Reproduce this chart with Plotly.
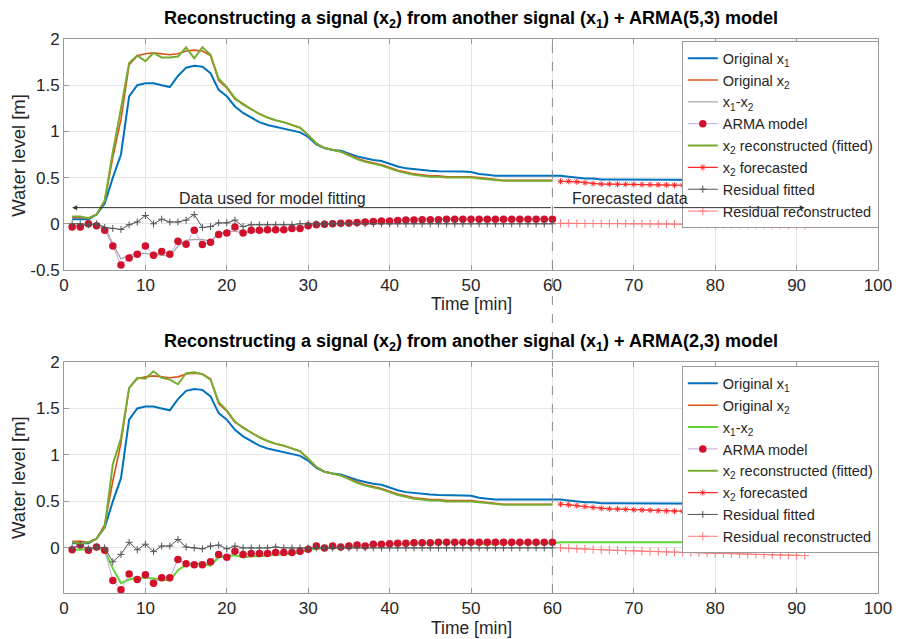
import plotly.graph_objects as go

# ---------------- data ----------------
t_fit = list(range(1, 61))
t_fc = list(range(61, 92))
t_all = list(range(1, 92))

x1 = [0.05, 0.05, 0.05, 0.10, 0.22, 0.50, 0.75, 1.38, 1.50, 1.52,
      1.52, 1.50, 1.48, 1.60, 1.69, 1.71, 1.70, 1.63, 1.45, 1.38,
      1.27, 1.20, 1.15, 1.10, 1.07, 1.05, 1.03, 1.01, 0.99, 0.94,
      0.86, 0.82, 0.80, 0.79, 0.76, 0.73, 0.71, 0.69, 0.68, 0.65,
      0.62, 0.60, 0.59, 0.58, 0.575, 0.57, 0.57, 0.565, 0.565, 0.56,
      0.54, 0.53, 0.52, 0.52, 0.52, 0.52, 0.52, 0.52, 0.52, 0.52,
      0.52, 0.51, 0.50, 0.49, 0.49, 0.48, 0.48, 0.48, 0.48, 0.48,
      0.48, 0.48, 0.48, 0.48, 0.48, 0.48, 0.475, 0.475, 0.475, 0.475,
      0.475, 0.47, 0.47, 0.47, 0.47, 0.47, 0.47, 0.47, 0.47, 0.47, 0.47]

x2 = [0.07, 0.07, 0.06, 0.10, 0.25, 0.72, 1.13, 1.72, 1.82, 1.84,
      1.85, 1.84, 1.83, 1.84, 1.87, 1.88, 1.87, 1.82, 1.55, 1.47,
      1.35, 1.30, 1.24, 1.19, 1.15, 1.12, 1.10, 1.07, 1.04, 0.96,
      0.87, 0.82, 0.80, 0.78, 0.75, 0.71, 0.68, 0.66, 0.64, 0.61,
      0.58, 0.56, 0.54, 0.53, 0.52, 0.52, 0.51, 0.51, 0.51, 0.51,
      0.50, 0.49, 0.48, 0.47, 0.47, 0.47, 0.47, 0.47, 0.47, 0.47]

x1_minus_x2 = [-0.02, -0.02, -0.01, 0.0, -0.03, -0.22, -0.38, -0.34, -0.32, -0.32,
               -0.33, -0.34, -0.35, -0.24, -0.18, -0.17, -0.17, -0.19, -0.10, -0.09,
               -0.08, -0.10, -0.09, -0.09, -0.08, -0.07, -0.07, -0.06, -0.05, -0.02,
               -0.01, 0.0, 0.0, 0.01, 0.01, 0.02, 0.03, 0.03, 0.04, 0.04,
               0.04, 0.04, 0.05, 0.05, 0.055, 0.05, 0.06, 0.055, 0.055, 0.05,
               0.04, 0.04, 0.04, 0.05, 0.05, 0.05, 0.05, 0.05, 0.05, 0.05]
x1_minus_x2_after = [0.06] * 31

# ARMA(5,3) panel
arma_53 = [-0.035, -0.035, 0.0, -0.02, -0.07, -0.24, -0.445, -0.37, -0.33, -0.24,
           -0.34, -0.30, -0.33, -0.19, -0.22, -0.07, -0.225, -0.20, -0.115, -0.10,
           -0.035, -0.10, -0.07, -0.07, -0.065, -0.065, -0.065, -0.05, -0.05, -0.02,
           -0.01, -0.005, 0.0, 0.005, 0.01, 0.015, 0.02, 0.025, 0.03, 0.03,
           0.035, 0.04, 0.04, 0.045, 0.045, 0.045, 0.05, 0.05, 0.05, 0.05,
           0.05, 0.05, 0.05, 0.05, 0.05, 0.05, 0.05, 0.05, 0.05, 0.05]
recon_53 = [0.08, 0.08, 0.06, 0.10, 0.25, 0.78, 1.25, 1.74, 1.82, 1.76,
            1.85, 1.80, 1.80, 1.81, 1.91, 1.79, 1.91, 1.83, 1.57, 1.48,
            1.36, 1.29, 1.24, 1.19, 1.15, 1.12, 1.10, 1.07, 1.04, 0.96,
            0.87, 0.82, 0.80, 0.78, 0.74, 0.70, 0.67, 0.65, 0.63, 0.60,
            0.57, 0.55, 0.53, 0.52, 0.51, 0.51, 0.50, 0.50, 0.50, 0.50,
            0.49, 0.48, 0.47, 0.465, 0.465, 0.465, 0.465, 0.465, 0.465, 0.465]
forecast_53 = [0.46, 0.46, 0.455, 0.445, 0.435, 0.43, 0.43, 0.428, 0.427, 0.427,
               0.425, 0.424, 0.422, 0.42, 0.418, 0.417, 0.416, 0.415, 0.414, 0.413,
               0.412, 0.412, 0.411, 0.411, 0.41, 0.41, 0.41, 0.409, 0.409, 0.408, 0.408]
resid_fit_53 = [0.0, 0.0, -0.01, 0.0, -0.04, -0.05, -0.06, -0.01, 0.02, 0.09,
                0.0, 0.05, 0.02, 0.02, 0.04, 0.10, -0.04, -0.03, 0.01, 0.01,
                0.04, -0.03, -0.01, -0.01, -0.01, -0.01, -0.01, -0.01, 0.0, 0.0,
                0.0, 0.0, 0.0, 0.0, 0.0, 0.0, 0.0, 0.0, 0.0, 0.0,
                0.0, 0.0, 0.0, 0.0, 0.0, 0.0, 0.0, 0.0, 0.0, 0.0,
                0.0, 0.0, 0.0, 0.0, 0.0, 0.0, 0.0, 0.0, 0.0, 0.0]
resid_rec_53 = [0.005, 0.005, 0.004, 0.004, 0.003, 0.003, 0.002, 0.002, 0.001, 0.0,
                0.0, -0.001, -0.002, -0.002, -0.003, -0.004, -0.005, -0.005, -0.006, -0.007,
                -0.008, -0.008, -0.009, -0.010, -0.010, -0.011, -0.012, -0.012, -0.013, -0.014, -0.015]

# ARMA(2,3) panel
arma_23 = [-0.02, 0.03, -0.025, 0.01, -0.025, -0.35, -0.45, -0.28, -0.34, -0.29,
           -0.38, -0.32, -0.32, -0.125, -0.17, -0.18, -0.18, -0.15, -0.07, -0.10,
           -0.035, -0.07, -0.06, -0.06, -0.06, -0.05, -0.05, -0.05, -0.035, -0.015,
           0.02, 0.0, 0.02, 0.01, 0.02, 0.03, 0.02, 0.04, 0.04, 0.045,
           0.05, 0.05, 0.055, 0.055, 0.055, 0.06, 0.06, 0.06, 0.06, 0.06,
           0.06, 0.06, 0.06, 0.06, 0.06, 0.06, 0.06, 0.06, 0.06, 0.06]
recon_23 = [0.06, 0.05, 0.06, 0.10, 0.22, 0.90, 1.18, 1.72, 1.83, 1.82,
            1.90, 1.83, 1.81, 1.76, 1.88, 1.89, 1.87, 1.81, 1.57, 1.48,
            1.36, 1.29, 1.24, 1.19, 1.15, 1.12, 1.10, 1.07, 1.04, 0.96,
            0.87, 0.82, 0.80, 0.78, 0.74, 0.70, 0.67, 0.65, 0.63, 0.60,
            0.57, 0.55, 0.53, 0.52, 0.51, 0.51, 0.50, 0.50, 0.50, 0.50,
            0.49, 0.48, 0.47, 0.465, 0.465, 0.465, 0.465, 0.465, 0.465, 0.465]
forecast_23 = [0.47, 0.465, 0.455, 0.445, 0.435, 0.425, 0.42, 0.418, 0.415, 0.41,
               0.408, 0.405, 0.40, 0.398, 0.395, 0.392, 0.39, 0.388, 0.386, 0.384,
               0.382, 0.38, 0.379, 0.378, 0.377, 0.376, 0.375, 0.374, 0.373, 0.372, 0.371]
resid_fit_23 = [0.0, 0.03, -0.01, 0.01, 0.0, -0.15, -0.07, 0.06, -0.02, 0.04,
                -0.04, 0.02, 0.02, 0.09, 0.01, 0.0, -0.01, 0.02, 0.03, -0.01,
                0.02, 0.0, 0.0, 0.0, 0.0, 0.01, 0.0, 0.0, 0.0, 0.0,
                0.0, 0.0, 0.0, 0.0, 0.0, 0.0, 0.0, 0.0, 0.0, 0.0,
                0.0, 0.0, 0.0, 0.0, 0.0, 0.0, 0.0, 0.0, 0.0, 0.0,
                0.0, 0.0, 0.0, 0.0, 0.0, 0.0, 0.0, 0.0, 0.0, 0.0]
resid_rec_23 = [0.0, -0.005, -0.01, -0.013, -0.017, -0.02, -0.023, -0.026, -0.03, -0.032,
                -0.035, -0.038, -0.04, -0.043, -0.045, -0.048, -0.05, -0.053, -0.055, -0.058,
                -0.06, -0.062, -0.065, -0.067, -0.07, -0.072, -0.074, -0.076, -0.078, -0.08, -0.082]

titles = ["Reconstructing a signal (x<sub>2</sub>) from another signal (x<sub>1</sub>) + ARMA(5,3) model",
          "Reconstructing a signal (x<sub>2</sub>) from another signal (x<sub>1</sub>) + ARMA(2,3) model"]
x_ticks = [0, 10, 20, 30, 40, 50, 60, 70, 80, 90, 100]
y_ticks_top = [-0.5, 0, 0.5, 1, 1.5, 2]
y_ticks_bot = [0, 0.5, 1, 1.5, 2]

# ---------------- styles ----------------
FONT = "Liberation Sans, Arial, sans-serif"
C_BLUE = "#0072BD"
C_ORANGE = "#D95319"
C_GREEN = "#77AC30"
C_GRAY = "#A8A8A8"
C_BRIGHT = "#5FD52F"
C_ARMA_LINE = "#C9A6DA"
C_ARMA_DOT = "#D2102C"
C_FC = "#FF2B2B"
C_RF = "#555555"
C_RR = "#FF7A7A"

fig = go.Figure()


def add_panel(xa, ya, leg, diff_color, diff_x, diff_y, arma, recon, fc, rfit, rrec):
    fig.add_trace(go.Scatter(x=t_all, y=x1, name="Original x<sub>1</sub>", mode="lines",
                             line=dict(color=C_BLUE, width=2), xaxis=xa, yaxis=ya, legend=leg))
    fig.add_trace(go.Scatter(x=t_fit, y=x2, name="Original x<sub>2</sub>", mode="lines",
                             line=dict(color=C_ORANGE, width=1.6), xaxis=xa, yaxis=ya, legend=leg))
    fig.add_trace(go.Scatter(x=diff_x, y=diff_y, name="x<sub>1</sub>-x<sub>2</sub>", mode="lines",
                             line=dict(color=diff_color, width=1.3 if diff_color == C_GRAY else 2),
                             xaxis=xa, yaxis=ya, legend=leg))
    fig.add_trace(go.Scatter(x=t_fit, y=arma, name="ARMA model", mode="lines+markers",
                             line=dict(color=C_ARMA_LINE, width=1),
                             marker=dict(color=C_ARMA_DOT, size=7.5),
                             xaxis=xa, yaxis=ya, legend=leg))
    fig.add_trace(go.Scatter(x=t_fit, y=recon, name="x<sub>2</sub> reconstructed (fitted)", mode="lines",
                             line=dict(color=C_GREEN, width=2), xaxis=xa, yaxis=ya, legend=leg))
    fig.add_trace(go.Scatter(x=t_fc, y=fc, name="x<sub>2</sub> forecasted", mode="lines+markers",
                             line=dict(color=C_FC, width=1.3),
                             marker=dict(color=C_FC, size=5, symbol="asterisk-open",
                                         line=dict(color=C_FC, width=1)),
                             xaxis=xa, yaxis=ya, legend=leg))
    fig.add_trace(go.Scatter(x=t_fit, y=rfit, name="Residual fitted", mode="lines+markers",
                             line=dict(color=C_RF, width=1),
                             marker=dict(color=C_RF, size=5, symbol="cross-thin-open",
                                         line=dict(color=C_RF, width=1)),
                             xaxis=xa, yaxis=ya, legend=leg))
    fig.add_trace(go.Scatter(x=t_fc, y=rrec, name="Residual reconstructed", mode="lines+markers",
                             line=dict(color=C_RR, width=1),
                             marker=dict(color=C_RR, size=6, symbol="cross-thin-open",
                                         line=dict(color=C_RR, width=1)),
                             xaxis=xa, yaxis=ya, legend=leg))


add_panel("x", "y", "legend", C_GRAY, t_fit, x1_minus_x2, arma_53, recon_53, forecast_53,
          resid_fit_53, resid_rec_53)
add_panel("x2", "y2", "legend2", C_BRIGHT, t_all, x1_minus_x2 + x1_minus_x2_after, arma_23,
          recon_23, forecast_23, resid_fit_23, resid_rec_23)

axis_common = dict(showline=True, linecolor="#9A9A9A", linewidth=1, mirror="ticks",
                   ticks="inside", ticklen=5, tickcolor="#9A9A9A",
                   showgrid=True, gridcolor="#E6E6E6", gridwidth=1, zeroline=False,
                   tickfont=dict(family=FONT, size=17, color="#262626"))

top_dom = [0.583, 1.0]
bot_dom = [0.0, 0.417]

LEG_FONT = dict(family=FONT, size=14.5, color="#262626")

fig.update_layout(
    width=904, height=639,
    margin=dict(l=64, r=17, t=39, b=46),
    paper_bgcolor="white", plot_bgcolor="white",
    font=dict(family=FONT, size=14, color="#262626"),
    xaxis=dict(domain=[0, 1], range=[0, 100], tickvals=x_ticks, anchor="y", **axis_common),
    yaxis=dict(domain=top_dom, range=[-0.5, 2], tickvals=y_ticks_top,
               ticktext=["-0.5", "0", "0.5", "1", "1.5", "2"], anchor="x", **axis_common),
    xaxis2=dict(domain=[0, 1], range=[0, 100], tickvals=x_ticks, anchor="y2", **axis_common),
    yaxis2=dict(domain=bot_dom, range=[-0.485, 2], tickvals=y_ticks_bot,
                ticktext=["0", "0.5", "1", "1.5", "2"], anchor="x2", **axis_common),
    legend=dict(x=1.001, y=0.996, xanchor="right", yanchor="top", bgcolor="white",
                bordercolor="#9A9A9A", borderwidth=1, font=LEG_FONT,
                tracegroupgap=0, itemwidth=30),
    legend2=dict(x=1.001, y=0.409, xanchor="right", yanchor="top", bgcolor="white",
                 bordercolor="#9A9A9A", borderwidth=1, font=LEG_FONT,
                 tracegroupgap=0, itemwidth=30),
    showlegend=True,
)

# vertical dashed line at t=60 spanning both panels
fig.add_shape(type="line", xref="x", yref="paper", x0=60, x1=60, y0=0, y1=1,
              line=dict(color="#8C8C8C", width=1, dash="dash"), layer="above")

annotations = []
# titles
for txt, yy in [(titles[0], 1.036), (titles[1], 0.452)]:
    annotations.append(dict(text="<b>" + txt + "</b>", xref="paper", yref="paper", x=0.5, y=yy,
                            showarrow=False, xanchor="center", yanchor="middle",
                            font=dict(family=FONT, size=18, color="#000000")))
# x-axis titles
for yy in [0.522, -0.064]:
    annotations.append(dict(text="Time [min]", xref="paper", yref="paper", x=0.5, y=yy,
                            showarrow=False, xanchor="center", yanchor="middle",
                            font=dict(family=FONT, size=17.5, color="#262626")))
# y-axis titles
for yy in [0.79, 0.2085]:
    annotations.append(dict(text="Water level [m]", xref="paper", yref="paper", x=-0.056, y=yy,
                            showarrow=False, xanchor="center", yanchor="middle", textangle=-90,
                            font=dict(family=FONT, size=18.5, color="#262626")))
# arrows
annotations.append(dict(x=1, y=0.175, ax=60, ay=0.175, xref="x", yref="y", axref="x", ayref="y",
                        text="", showarrow=True, arrowhead=2, arrowsize=1, arrowwidth=1,
                        arrowcolor="#333333"))
annotations.append(dict(x=91, y=0.175, ax=60, ay=0.175, xref="x", yref="y", axref="x", ayref="y",
                        text="", showarrow=True, arrowhead=2, arrowsize=1, arrowwidth=1,
                        arrowcolor="#333333"))
annotations.append(dict(text="Data used for model fitting", x=25.6, y=0.275, xref="x", yref="y",
                        showarrow=False, font=dict(family=FONT, size=16, color="#262626")))
annotations.append(dict(text="Forecasted data", x=69.5, y=0.275, xref="x", yref="y",
                        showarrow=False, font=dict(family=FONT, size=16, color="#262626")))
fig.update_layout(annotations=annotations)

fig.write_html("out.html", config={"displayModeBar": False},
               post_script="document.body.style.margin='0';document.body.style.overflow='hidden';")
